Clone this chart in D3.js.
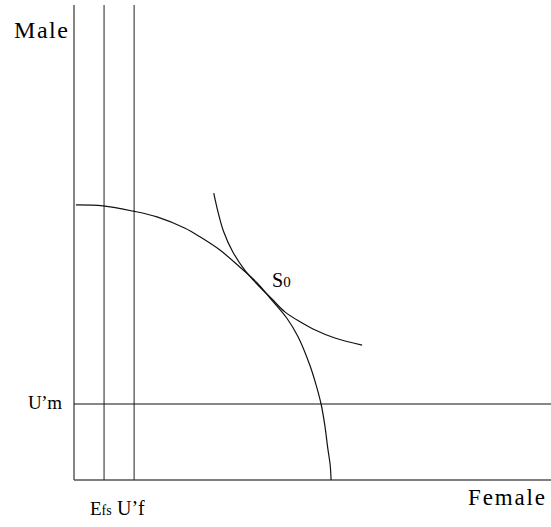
<!DOCTYPE html>
<html>
<head>
<meta charset="utf-8">
<script src="https://cdn.jsdelivr.net/npm/d3@7"></script>
<style>
  body { margin: 0; background: #fff; }
</style>
</head>
<body>
<div id="chart"></div>
<script>
// Possibility frontier (concave), in axis units
const frontier = [
  [0.4, 57.9], [6.1, 57.7], [12.4, 56.6], [17.4, 55.4], [23.3, 53.0],
  [26.4, 51.2], [30.6, 48.4], [34.8, 44.8], [38.4, 41.5], [41.1, 38.3],
  [44.6, 34.1], [47.0, 30.1], [49.5, 24.0], [50.7, 20.2], [51.8, 16.0],
  [52.6, 11.4], [53.2, 6.7], [53.7, 3.2], [53.9, 0]
];

// Indifference curve (convex), tangent at S0
const indiff = [
  [29.3, 60.4], [30.2, 56.4], [31.4, 52.2], [33.3, 48.0], [35.8, 44.2],
  [38.6, 41.0], [41.5, 38.1], [44.2, 35.4], [47.4, 33.3], [50.1, 31.8],
  [54.7, 29.9], [60.4, 28.4]
];

// Reference lines
const verticals = [6.3, 12.6];   // E_fs, U'_f
const horizontals = [16.0];      // U'_m

const width = 551, height = 527;
const serif = '"Liberation Serif", Tinos, "Times New Roman", Times, "DejaVu Serif", serif';

const x = d3.scaleLinear().domain([0, 100]).range([74, 551]);
const y = d3.scaleLinear().domain([0, 100]).range([480, 5]);

const svg = d3.select('#chart').append('svg')
  .attr('width', width)
  .attr('height', height)
  .attr('font-family', serif);

// Axes (plain lines, no ticks)
svg.append('line')
  .attr('x1', x(0)).attr('x2', x(0))
  .attr('y1', y(100)).attr('y2', y(0))
  .attr('stroke', '#333').attr('stroke-width', 1.2);

svg.append('line')
  .attr('x1', x(0)).attr('x2', x(100))
  .attr('y1', y(0)).attr('y2', y(0))
  .attr('stroke', '#555').attr('stroke-width', 1.5);

svg.selectAll('.vline')
  .data(verticals)
  .enter().append('line')
  .attr('class', 'vline')
  .attr('x1', d => x(d)).attr('x2', d => x(d))
  .attr('y1', y(100)).attr('y2', y(0))
  .attr('stroke', '#222').attr('stroke-width', 1);

svg.selectAll('.hline')
  .data(horizontals)
  .enter().append('line')
  .attr('class', 'hline')
  .attr('x1', x(0)).attr('x2', x(100))
  .attr('y1', d => y(d)).attr('y2', d => y(d))
  .attr('stroke', '#111').attr('stroke-width', 1);

const line = d3.line()
  .x(d => x(d[0]))
  .y(d => y(d[1]))
  .curve(d3.curveCatmullRom.alpha(0.5));

svg.append('path')
  .datum(frontier)
  .attr('d', line)
  .attr('fill', 'none')
  .attr('stroke', '#111')
  .attr('stroke-width', 1.2);

svg.append('path')
  .datum(indiff)
  .attr('d', line)
  .attr('fill', 'none')
  .attr('stroke', '#111')
  .attr('stroke-width', 1.2);

// Labels
svg.append('text')
  .attr('x', 14).attr('y', 38)
  .attr('font-size', 24)
  .attr('textLength', 54).attr('lengthAdjust', 'spacing')
  .text('Male');

svg.append('text')
  .attr('x', 468).attr('y', 505)
  .attr('font-size', 23)
  .attr('textLength', 77).attr('lengthAdjust', 'spacing')
  .text('Female');

svg.append('text')
  .attr('x', 28).attr('y', y(16) + 5)
  .attr('font-size', 19)
  .attr('textLength', 34).attr('lengthAdjust', 'spacing')
  .text('U’m');

const s0 = svg.append('text')
  .attr('x', 272).attr('y', 287)
  .attr('font-size', 20);
s0.append('tspan').text('S');
s0.append('tspan').attr('font-size', 15).text('0');

const efs = svg.append('text')
  .attr('x', 90).attr('y', 515)
  .attr('font-size', 19);
efs.append('tspan').text('E');
efs.append('tspan').attr('font-size', 14).text('fs');

svg.append('text')
  .attr('x', 117).attr('y', 515)
  .attr('font-size', 20)
  .text('U’f');
</script>
</body>
</html>
